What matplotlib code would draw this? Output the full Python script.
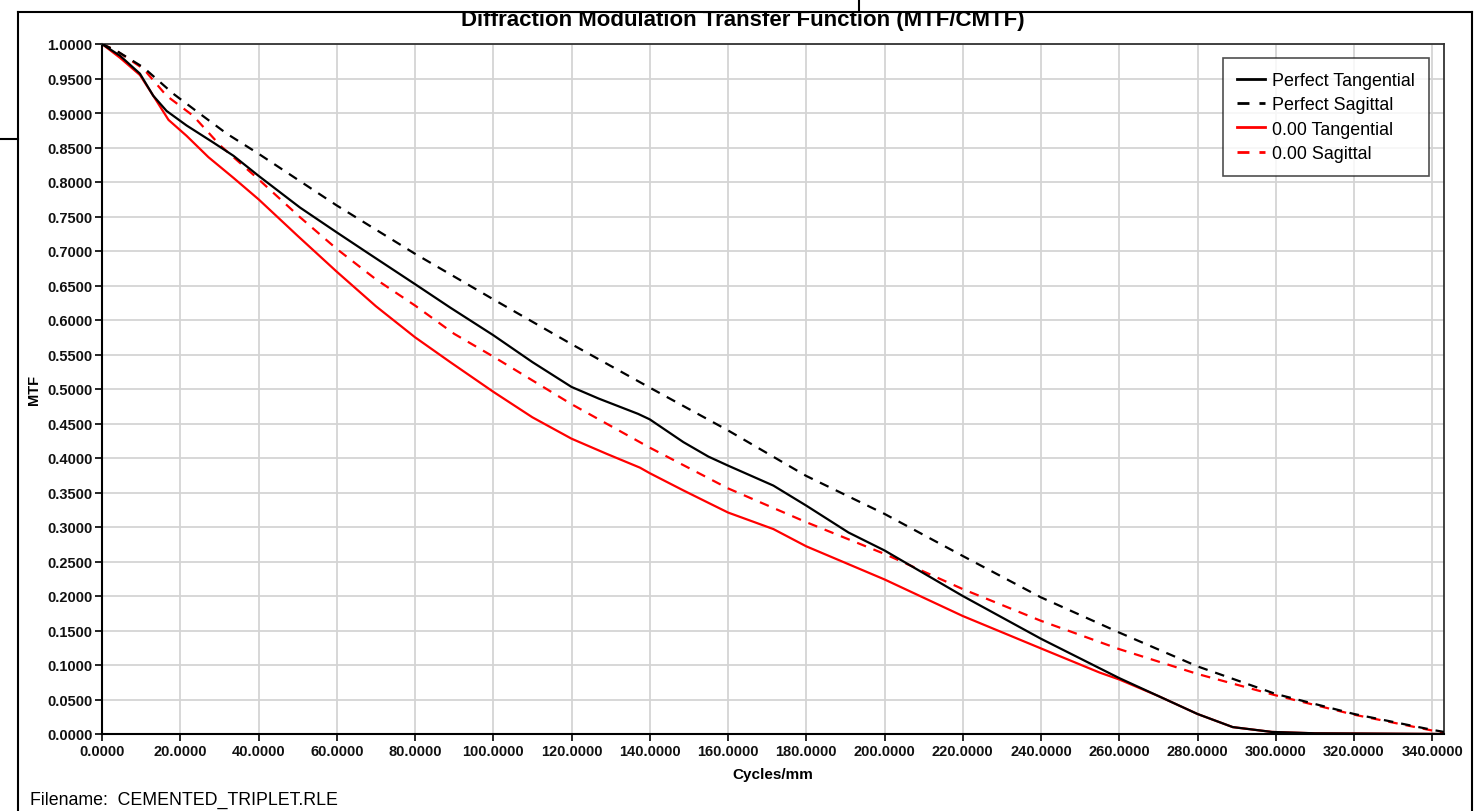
import matplotlib
matplotlib.use("Agg")
import matplotlib.pyplot as plt
from matplotlib.lines import Line2D
from matplotlib.transforms import Bbox

plt.rcParams['font.family'] = ['Liberation Sans', 'DejaVu Sans']

# ---- data ----
f_pt = [0, 4.6, 9.7, 13.1, 16.5, 21.6, 28.5, 33.6, 40, 50.6, 60, 67.7, 80, 89, 100, 110, 120, 127, 137,
        140, 148.6, 155, 160, 171.6, 180, 190.8, 200, 220, 240, 260, 270, 280, 289, 299, 310, 343]
m_pt = [1.0, 0.983, 0.957, 0.925, 0.903, 0.882, 0.857, 0.838, 0.809, 0.763, 0.727, 0.698, 0.652, 0.618,
        0.578, 0.539, 0.503, 0.486, 0.464, 0.456, 0.423, 0.402, 0.389, 0.360, 0.331, 0.292, 0.266, 0.200,
        0.138, 0.081, 0.055, 0.029, 0.010, 0.003, 0.001, 0.0]

f_ps = [0, 3.75, 10.6, 18.2, 25, 31.9, 40, 60, 80, 100, 120, 140, 160, 180, 200, 220, 240, 260, 280,
        300, 320, 340, 343]
m_ps = [1.0, 0.990, 0.966, 0.928, 0.899, 0.870, 0.841, 0.766, 0.696, 0.630, 0.565, 0.502, 0.440, 0.374,
        0.319, 0.258, 0.198, 0.147, 0.098, 0.058, 0.029, 0.006, 0.003]

f_rt = [0, 4.6, 9.7, 13.1, 17.0, 21.6, 27.2, 33.6, 40, 50, 60, 70, 80, 89, 100, 110, 120, 129, 137.5,
        140, 148.6, 155, 160, 171.6, 180, 200, 220, 240, 255, 260, 270, 280, 289, 299, 310, 343]
m_rt = [1.0, 0.980, 0.955, 0.925, 0.890, 0.867, 0.836, 0.806, 0.775, 0.722, 0.670, 0.620, 0.575, 0.539,
        0.496, 0.459, 0.428, 0.406, 0.386, 0.378, 0.353, 0.335, 0.321, 0.297, 0.272, 0.224, 0.171, 0.124,
        0.089, 0.079, 0.055, 0.029, 0.010, 0.003, 0.001, 0.0]

f_rs = [0, 3.75, 10.6, 16.5, 23.3, 30.2, 40, 50.6, 60, 70, 80, 90, 100, 120, 140, 160, 180, 200, 220,
        240, 260, 280, 300, 320, 340, 343]
m_rs = [1.0, 0.990, 0.964, 0.925, 0.896, 0.853, 0.804, 0.749, 0.703, 0.659, 0.621, 0.580, 0.547, 0.478,
        0.415, 0.356, 0.307, 0.261, 0.210, 0.164, 0.123, 0.087, 0.056, 0.028, 0.005, 0.002]

labels = ["Perfect Tangential", "Perfect Sagittal", "0.00 Tangential", "0.00 Sagittal"]
x_ticks = [0, 20, 40, 60, 80, 100, 120, 140, 160, 180, 200, 220, 240, 260, 280, 300, 320, 340]
y_ticks = [i * 0.05 for i in range(21)]

title = "Diffraction Modulation Transfer Function (MTF/CMTF)"
xlabel = "Cycles/mm"
ylabel = "MTF"
footer = "Filename:  CEMENTED_TRIPLET.RLE"

# ---- figure ----
W, H = 1477, 812
fig = plt.figure(figsize=(W / 100, H / 100), dpi=100)
L, R, T, B = 102, 1444, 45, 735
ax = fig.add_axes([L / W, 1 - B / H, (R - L) / W, (B - T) / H])

lw = 1.6
dash = (0, (4.3, 3.6))
ax.plot(f_pt, m_pt, color="black", lw=lw, label=labels[0], zorder=3)
ax.plot(f_ps, m_ps, color="black", lw=lw, linestyle=dash, label=labels[1], zorder=3)
ax.plot(f_rt, m_rt, color="#ff0000", lw=lw, label=labels[2], zorder=2)
ax.plot(f_rs, m_rs, color="#ff0000", lw=lw, linestyle=dash, label=labels[3], zorder=2)

ax.set_xlim(0, 343)
ax.set_ylim(0, 1.0)
ax.set_xticks(x_ticks)
ax.set_yticks(y_ticks)
ax.set_xticklabels([f"{v:.4f}" for v in x_ticks])
ax.set_yticklabels([f"{v:.4f}" for v in y_ticks])
ax.grid(True, color="#d4d4d4", lw=1.3)
ax.set_axisbelow(True)
ax.tick_params(axis="both", direction="out", length=5, width=1.2, color="black",
               labelsize=10.5, pad=2, labelcolor="#111111")
for lbl in ax.get_xticklabels() + ax.get_yticklabels():
    lbl.set_fontweight("bold")
for s in ["left", "bottom"]:
    ax.spines[s].set_color("black")
    ax.spines[s].set_linewidth(1.5)
for s in ["top", "right"]:
    ax.spines[s].set_color("#333333")
    ax.spines[s].set_linewidth(1.3)

ax.set_xlabel(xlabel, fontsize=11, fontweight="bold", labelpad=7)
ax.set_ylabel(ylabel, fontsize=10.5, fontweight="bold", labelpad=4)

leg = ax.legend(loc="upper right", bbox_to_anchor=((1429 - L) / (R - L), 1 - (59 - T) / (B - T)),
                fontsize=12.9, frameon=True, fancybox=False, edgecolor="#222222",
                handlelength=1.55, handletextpad=0.4, labelspacing=0.40, borderpad=0.8,
                borderaxespad=0)
leg.get_frame().set_linewidth(1.2)
for h in leg.get_lines():
    h.set_linewidth(2.0)

ttl = fig.text(743 / W, 1 - 26 / H, title, ha="center", va="baseline", fontsize=16, fontweight="bold")
ttl.set_clip_box(Bbox.from_extents(0, 0, W, H - 13))
ttl.set_clip_on(True)
fig.text(30 / W, 1 - 805 / H, footer, ha="left", va="baseline", fontsize=12.75)

# outer frame lines
def px_line(x0, y0, x1, y1, lw=1.5):
    fig.add_artist(Line2D([x0 / W, x1 / W], [1 - y0 / H, 1 - y1 / H], color="black", lw=lw,
                          transform=fig.transFigure))

px_line(18, 13, 1472, 13)
px_line(18, 13, 18, 812)
px_line(1472, 13, 1472, 812)
px_line(0, 140, 18, 140)
px_line(859, 0, 859, 13)

fig.savefig("out.png", dpi=100)
